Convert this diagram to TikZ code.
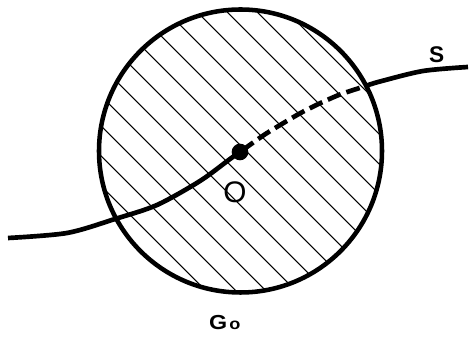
\documentclass[tikz,border=0pt]{standalone}
\usepackage{fontspec}
\setmainfont{Liberation Sans}
\begin{document}
\begin{tikzpicture}[x=0.75pt,y=-0.75pt,
  hatch/.style={line width=0.8pt},
  rim/.style={line width=3.4pt},
  curve/.style={line width=3.5pt},
  dashcurve/.style={curve, dash pattern=on 10.5pt off 4.5pt, dash phase=13.2pt},
  lbl/.style={inner sep=0pt, text=black}]
\useasboundingbox (0,0) rectangle (469,341);
\coordinate (c) at (240.5,151);
\begin{scope}
  \clip (c) circle [radius=141.5];
  \foreach \k in {-6,...,6} {
    \draw[hatch] (60,{60-95+30*\k}) -- (420,{420-95+30*\k});
  }
\end{scope}
\draw[rim] (c) circle [radius=141.5];
\draw[curve] plot[smooth] coordinates {(8,238) (67,233) (115,219) (157,205) (200,181) (230,159) (240,152)};
\draw[dashcurve] plot[smooth] coordinates {(240,152) (264,135) (283,123.3) (301,112.8) (320,103.3) (340,94.5) (358,88.5) (367,85.5)};
\draw[curve] plot[smooth] coordinates {(367,85.5) (380,81.5) (423,71) (468,67)};
\node[circle, fill=black, inner sep=0pt, minimum size=12.5pt] (dot) at (240,152) {};
\node[lbl, font=\fontsize{22.3}{24}\selectfont] (O) at (235,192.5) {O};
\node[lbl, font=\bfseries\fontsize{17}{20}\selectfont] (S) at (436.7,55) {S};
\node[lbl, xscale=1.15, font=\bfseries\fontsize{15.2}{18}\selectfont] (G) at (218.3,322.5) {G};
\node[lbl, xscale=1.15, font=\bfseries\fontsize{11.8}{14}\selectfont] (Gsub) at (235,325.8) {o};
\end{tikzpicture}
\end{document}
